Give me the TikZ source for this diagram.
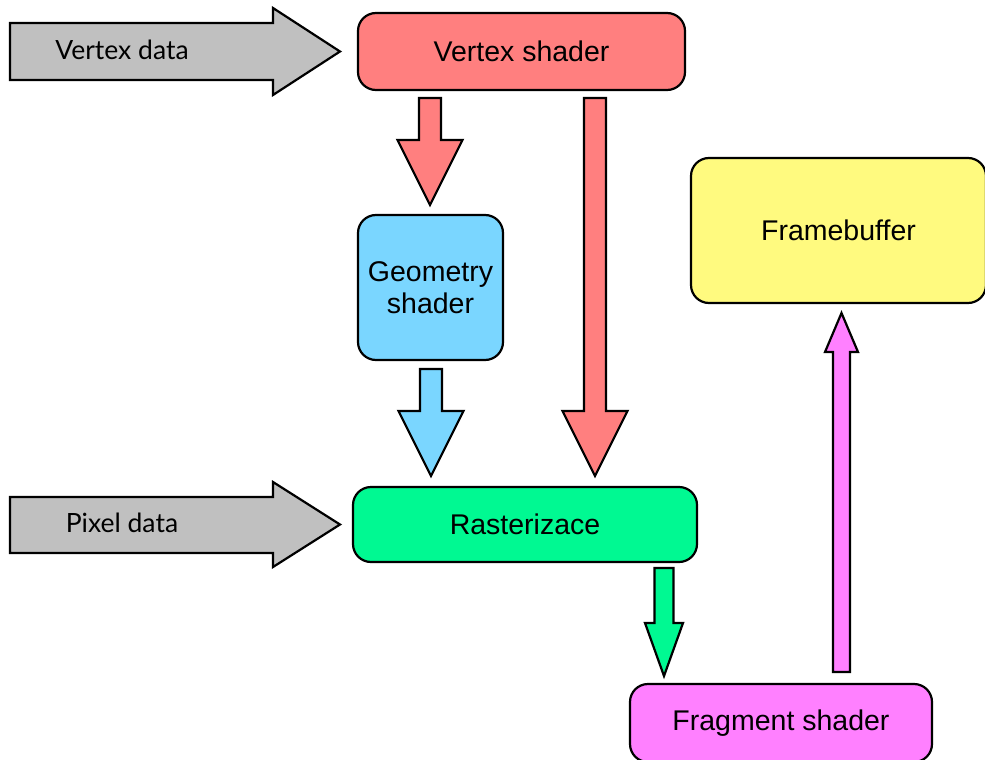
\documentclass[tikz,border=0pt]{standalone}
\usepackage{fontspec}
\setmainfont{Liberation Sans}
\newfontfamily\gillfont{Lato}
\definecolor{vsred}{HTML}{FF7F7F}
\definecolor{gsblue}{HTML}{7AD6FF}
\definecolor{rsgreen}{HTML}{00F992}
\definecolor{fbyellow}{HTML}{FFFA7F}
\definecolor{fspink}{HTML}{FF80FF}
\definecolor{datagray}{HTML}{C0C0C0}
\tikzset{
  box/.style={draw=black, line width=2.2pt, rounded corners=18pt, inner sep=0pt,
    font=\fontsize{28.5}{32}\selectfont, align=center},
  blockarrow/.style={draw=black, line width=2.2pt, line join=miter},
  datalabel/.style={font=\gillfont\fontsize{26.5}{28}\selectfont, inner sep=0pt}
}
% vertical down arrow: x, ytop, ybase, ytip, shaft half, head half, colour
\newcommand\vdownarrow[7]{%
  \draw[blockarrow, fill=#7] (#1-#5,#2) -- (#1+#5,#2) -- (#1+#5,#3) -- (#1+#6,#3)
    -- (#1,#4) -- (#1-#6,#3) -- (#1-#5,#3) -- cycle;}
\begin{document}
\begin{tikzpicture}[x=1pt,y=-1pt]
\useasboundingbox (0,0) rectangle (985,760);

% boxes
\node[box, fill=vsred, minimum width=327pt, minimum height=77pt] (vs) at (521.5,51.5) {Vertex shader};
\node[box, fill=gsblue, minimum width=145pt, minimum height=145pt] (gs) at (430.5,287.5) {Geometry\\shader};
\node[box, fill=rsgreen, minimum width=344pt, minimum height=75pt] (rs) at (525,524.5) {Rasterizace};
\node[box, fill=fbyellow, minimum width=295pt, minimum height=145pt] (fb) at (838.5,230.5) {Framebuffer};
\node[box, fill=fspink, minimum width=302pt, minimum height=78pt] (fs) at (781,723) {Fragment shader};

% gray input arrows
\draw[blockarrow, fill=datagray] (10,23) -- (273,23) -- (273,8) -- (340,51.5) -- (273,95) -- (273,80) -- (10,80) -- cycle;
\node[datalabel] (vd) at (122,50) {Vertex data};
\draw[blockarrow, fill=datagray] (10,497) -- (273,497) -- (273,482) -- (340,524.5) -- (273,567) -- (273,553) -- (10,553) -- cycle;
\node[datalabel] (pd) at (122,523) {Pixel data};

% connectors
\vdownarrow{430}{98}{140}{205}{11}{32.5}{vsred}
\vdownarrow{595}{98}{411}{476}{11}{32.5}{vsred}
\vdownarrow{431}{369}{411}{476}{11}{32.5}{gsblue}
\vdownarrow{664}{568}{623}{676}{9.5}{19}{rsgreen}
\vdownarrow{841.5}{672}{352}{313}{8.5}{16.5}{fspink}
\end{tikzpicture}
\end{document}
